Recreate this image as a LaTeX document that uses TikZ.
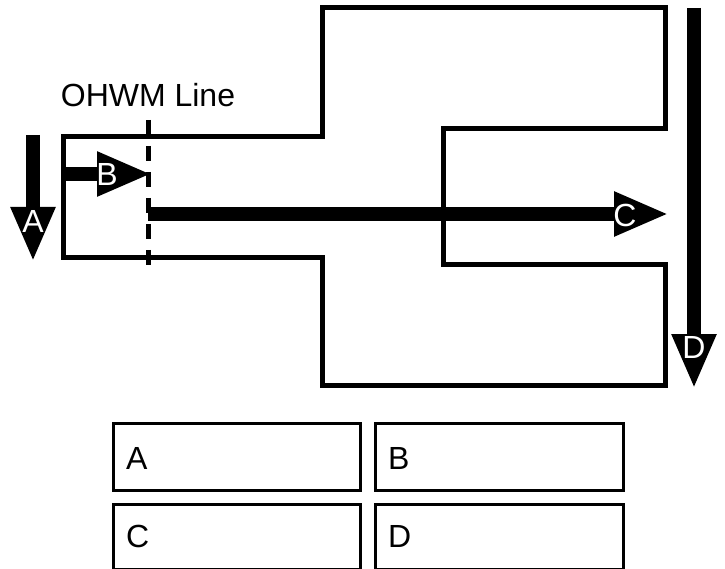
\documentclass[tikz,border=0pt]{standalone}
\usepackage{fontspec}
\setmainfont{Liberation Sans}
\usetikzlibrary{arrows.meta}
\begin{document}
\begin{tikzpicture}[x=1pt,y=-1pt,
  outline/.style={line width=5pt, line join=miter},
  ohwm/.style={line width=5pt, dash pattern=on 15pt off 11pt},
  blockarrow/.style={line width=14pt, shorten >=-4pt, -{Triangle[length=55pt,width=41pt]}},
  arrowlabel/.style={text=white, inner sep=0pt, font=\fontsize{32}{38}\selectfont},
  answerbox/.style={draw, line width=3pt},
  boxtext/.style={anchor=base west, inner sep=0pt, font=\fontsize{32}{38}\selectfont},
  plaintext/.style={anchor=base, inner sep=0pt, font=\fontsize{32}{38}\selectfont}]
\useasboundingbox (0,0) rectangle (725,569);

% site outline
\draw[outline] (63,137) -- (322,137) -- (322,8) -- (665,8) -- (665,129)
  -- (443,129) -- (443,265) -- (665,265) -- (665,385) -- (322,385)
  -- (322,258) -- (63,258) -- cycle;

% OHWM line
\coordinate (ohwmtop) at (148,120);
\coordinate (ohwmbot) at (148,270);
\draw[ohwm] (ohwmtop) -- (ohwmbot);
\node[plaintext] (ohwmlabel) at (148,107) {OHWM Line};

% arrows
\coordinate (a1) at (33,135);
\coordinate (a2) at (33,258);
\coordinate (b1) at (63,174);
\coordinate (b2) at (148,174);
\coordinate (c1) at (148,214);
\coordinate (c2) at (665,214);
\coordinate (d1) at (694,8);
\coordinate (d2) at (694,385);
\draw[blockarrow] (a1) -- (a2);
\draw[blockarrow] (b1) -- (b2);
\draw[blockarrow] (c1) -- (c2);
\draw[blockarrow] (d1) -- (d2);
\node[arrowlabel] (la) at (33,221) {A};
\node[arrowlabel] (lb) at (107,174) {B};
\node[arrowlabel] (lc) at (625,215) {C};
\node[arrowlabel] (ld) at (694,347) {D};

% answer boxes
\draw[answerbox] (113,423) rectangle (360,490);
\draw[answerbox] (375,423) rectangle (623,490);
\draw[answerbox] (113,504) rectangle (360,569);
\draw[answerbox] (375,504) rectangle (623,569);
\node[boxtext] (ta) at (126,469) {A};
\node[boxtext] (tb) at (388,469) {B};
\node[boxtext] (tc) at (126,547) {C};
\node[boxtext] (td) at (388,547) {D};
\end{tikzpicture}
\end{document}
